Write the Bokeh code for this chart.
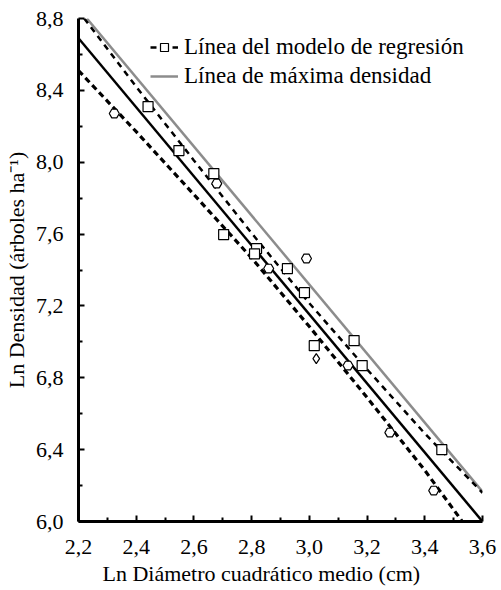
from bokeh.plotting import figure
from bokeh.models import (ColumnDataSource, FixedTicker, Legend, LegendItem, Range1d, Title)
from bokeh.embed import file_html
from bokeh.resources import INLINE

# ---- data ----
obs_x = [2.324, 2.441, 2.548, 2.669, 2.679, 2.703, 2.817, 2.810, 2.859, 2.924,
         2.990, 2.983, 3.017, 3.024, 3.134, 3.155, 3.183, 3.279, 3.459, 3.431]
obs_y = [8.271, 8.310, 8.065, 7.937, 7.881, 7.597, 7.519, 7.490, 7.408, 7.408,
         7.464, 7.274, 6.979, 6.907, 6.868, 7.007, 6.868, 6.495, 6.400, 6.172]
obs_marker = ["hex", "square", "square", "square", "hex", "square", "square", "square", "hex", "square",
              "hex", "square", "square", "diamond", "hex", "square", "square", "hex", "square", "hex"]

# regression line (solid)
reg_x = [2.2, 3.6]
reg_y = [8.69, 6.0]
# upper and lower dashed bands (read at several x positions)
upper_x = [2.22, 2.40, 2.60, 2.80, 3.00, 3.20, 3.40, 3.60]
upper_y = [8.80, 8.42, 8.01, 7.605, 7.215, 6.847, 6.49, 6.16]
lower_x = [2.20, 2.40, 2.60, 2.80, 3.00, 3.20, 3.40, 3.53]
lower_y = [8.51, 8.17, 7.82, 7.467, 7.085, 6.69, 6.285, 6.00]
# maximum density line (grey)
maxd_x = [2.229, 3.6]
maxd_y = [8.80, 6.166]

x_ticks = [2.2, 2.4, 2.6, 2.8, 3.0, 3.2, 3.4, 3.6]
x_minor = [2.3, 2.5, 2.7, 2.9, 3.1, 3.3, 3.5]
y_ticks = [6.0, 6.4, 6.8, 7.2, 7.6, 8.0, 8.4, 8.8]
y_minor = [6.2, 6.6, 7.0, 7.4, 7.8, 8.2, 8.6]

x_title = "Ln Diámetro cuadrático medio (cm)"
y_title = "Ln Densidad (árboles ha⁻¹)"

FONT = "Liberation Serif, serif"

p = figure(width=501, height=590, output_backend="svg", toolbar_location=None,
           x_range=Range1d(2.2, 3.6), y_range=Range1d(6.0, 8.8),
           min_border_left=76, min_border_right=19, min_border_top=18, min_border_bottom=69)
p.outline_line_color = None
p.xgrid.visible = False
p.ygrid.visible = False
p.background_fill_color = "white"
p.border_fill_color = "white"

src = ColumnDataSource(dict(x=obs_x, y=obs_y, marker=obs_marker))

r_max = p.line(maxd_x, maxd_y, line_color="#8c8c8c", line_width=2.5)
r_up = p.line(upper_x, upper_y, line_color="black", line_width=2.5, line_dash="6 5")
r_reg = p.line(reg_x, reg_y, line_color="black", line_width=2.5)
r_low = p.line(lower_x, lower_y, line_color="black", line_width=3.2, line_dash="6 4")
r_pts = p.scatter("x", "y", source=src, marker="marker", size=10,
                  fill_color="white", line_color="black", line_width=1.2)

for ax, ticks, minor in ((p.xaxis[0], x_ticks, x_minor), (p.yaxis[0], y_ticks, y_minor)):
    ax.ticker = FixedTicker(ticks=ticks, minor_ticks=minor)
    ax.major_label_overrides = {t: f"{t:.1f}".replace(".", ",") for t in ticks}
    ax.axis_line_width = 3
    ax.axis_line_color = "black"
    ax.major_tick_in = 6
    ax.major_tick_out = 0
    ax.minor_tick_in = 4
    ax.minor_tick_out = 0
    ax.major_tick_line_width = 2
    ax.minor_tick_line_width = 2
    ax.major_label_text_font = FONT
    ax.major_label_text_font_size = "22px"
    ax.major_label_text_color = "black"
    ax.axis_label_text_font = FONT
    ax.axis_label_text_font_size = "22px"
    ax.axis_label_text_font_style = "normal"
    ax.axis_label_text_color = "black"

p.xaxis[0].major_label_standoff = 18
p.yaxis[0].axis_label = y_title
p.yaxis[0].major_label_standoff = 15
p.yaxis[0].axis_label_standoff = 4

# x-axis title, shifted left as in the reference
xt = Title(text=x_title, align="left", offset=24, standoff=4,
           text_font=FONT, text_font_size="22px", text_font_style="normal", text_color="black")
p.add_layout(xt, "below")

legend = Legend(items=[
    LegendItem(label="Línea del modelo de regresión", renderers=[r_up, r_pts], index=1),
    LegendItem(label="Línea de máxima densidad", renderers=[r_max]),
], location=(72, 432))
legend.label_text_font = FONT
legend.label_text_font_size = "23px"
legend.label_text_color = "black"
legend.border_line_color = None
legend.background_fill_alpha = 0
legend.glyph_width = 28
legend.label_standoff = 6
legend.spacing = 3
legend.padding = 4
p.add_layout(legend)

open("out.html", "w").write(file_html(p, INLINE))
